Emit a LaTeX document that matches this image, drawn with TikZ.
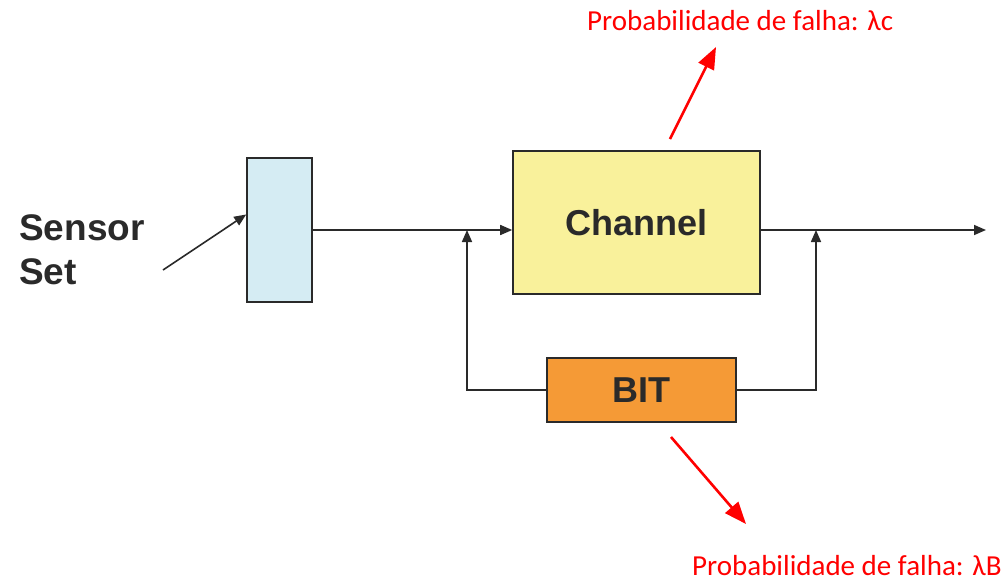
\documentclass[tikz,border=0pt]{standalone}
\usepackage{fontspec}
\setmainfont{Liberation Sans}
\newfontfamily\calib{Carlito}
\usetikzlibrary{arrows.meta,calc}
\definecolor{sensfill}{HTML}{D5ECF3}
\definecolor{chanfill}{HTML}{F9F19B}
\definecolor{bitfill}{HTML}{F59A36}
\definecolor{edge}{HTML}{2A2A2A}
\tikzset{
  blk/.style={draw=edge, line width=1.6pt, inner sep=0pt, text=edge, font=\fontsize{36}{40}\selectfont\bfseries},
  conn/.style={draw=edge, line width=1.6pt, -{Triangle[length=12pt,width=10pt]}},
  redarr/.style={draw=red, line width=2.6pt, -{Triangle[length=22pt,width=17pt]}},
  redlbl/.style={text=red, font=\calib\fontsize{29}{32}\selectfont, inner sep=0pt}
}
\begin{document}
\begin{tikzpicture}[x=1pt,y=-1pt]
\useasboundingbox (0,0) rectangle (1005,582);
% blocks
\node[blk, fill=sensfill, minimum width=65pt, minimum height=144pt] (sens) at (279.5,230) {};
\node[blk, fill=chanfill, minimum width=247pt, minimum height=143pt] (chan) at (636.5,222.5) {Channel};
\node[blk, fill=bitfill, minimum width=189pt, minimum height=64pt] (bit) at (641.5,390) {BIT};
% label
\node[anchor=base west, align=left, inner sep=0pt, text=edge, font=\fontsize{37}{44}\selectfont\bfseries] (slbl) at (19,284) {Sensor\\Set};
% coordinates
\coordinate (sin) at (163,270);
\coordinate (j1) at (467,230);
\coordinate (j2) at (816,230);
\coordinate (out) at (986,230);
% connectors
\draw[conn] (sin) -- (sens.155);
\draw[conn] (sens.east) -- (sens.east -| chan.west);
\draw[conn] (out -| chan.east) -- (out);
\draw[conn] (bit.west) -| (j1);
\draw[conn] (bit.east) -| (j2);
% red annotations
\node[redlbl, anchor=base west] (lc) at (587,30) {Probabilidade de falha: λc};
\node[redlbl, anchor=base west] (lb) at (692,575) {Probabilidade de falha: λB};
\coordinate (r1s) at (670,139);
\coordinate (r1e) at (716,47);
\coordinate (r2s) at (671,437);
\coordinate (r2e) at (746,524);
\draw[redarr] (r1s) -- (r1e);
\draw[redarr] (r2s) -- (r2e);
\end{tikzpicture}
\end{document}
